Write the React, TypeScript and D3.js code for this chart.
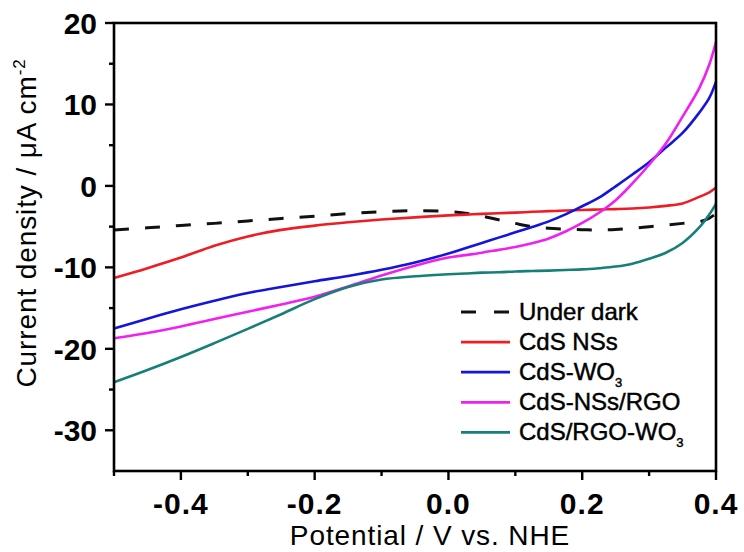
import React from "react";
import * as d3 from "d3";

// Potential sweep (V vs. NHE) shared by every trace
const potential = [
  -0.5, -0.45, -0.4, -0.35, -0.3, -0.25, -0.2, -0.15, -0.1, -0.05, 0, 0.025, 0.05, 0.075,
  0.1, 0.125, 0.15, 0.175, 0.2, 0.225, 0.25, 0.275, 0.3, 0.325, 0.35, 0.375, 0.39, 0.4,
];

// Current density (µA cm^-2) for each sample
const underDark = [
  -5.4, -5.15, -4.85, -4.6, -4.3, -4.0, -3.72, -3.4, -3.18, -3.05, -3.15, -3.35, -3.7, -4.15,
  -4.6, -5.0, -5.2, -5.3, -5.38, -5.4, -5.35, -5.2, -5.0, -4.8, -4.6, -4.4, -3.95, -3.4,
];
const cdsNSs = [
  -11.3, -10.1, -8.8, -7.35, -6.2, -5.4, -4.88, -4.47, -4.13, -3.86, -3.62, -3.52, -3.43, -3.35,
  -3.28, -3.18, -3.1, -3.02, -2.95, -2.9, -2.85, -2.78, -2.65, -2.45, -2.15, -1.35, -0.8, -0.2,
];
const cdsWO3 = [
  -17.5, -16.3, -15.15, -14.1, -13.15, -12.4, -11.7, -11.05, -10.3, -9.4, -8.3, -7.65, -7.0, -6.35,
  -5.7, -5.05, -4.35, -3.5, -2.5, -1.45, -0.05, 1.4, 2.9, 4.7, 6.5, 9.0, 10.8, 12.8,
];
const cdsNSsRGO = [
  -18.7, -18.05, -17.25, -16.35, -15.45, -14.55, -13.6, -12.35, -11.0, -9.8, -8.8, -8.5, -8.2, -7.85,
  -7.5, -7.05, -6.45, -5.6, -4.55, -3.3, -1.75, 0.3, 2.6, 5.2, 8.5, 12.0, 14.9, 17.7,
];
const cdsRGOWO3 = [
  -24.1, -22.6, -21.0, -19.3, -17.55, -15.75, -13.9, -12.4, -11.5, -11.1, -10.85, -10.75, -10.65, -10.6,
  -10.5, -10.45, -10.4, -10.32, -10.25, -10.1, -9.9, -9.55, -8.95, -8.2, -7.0, -5.1, -3.5, -2.2,
];

// Axis ticks
const xTicksMajor = [-0.4, -0.2, 0, 0.2, 0.4];
const xTickLabels = ["-0.4", "-0.2", "0.0", "0.2", "0.4"];
const xTicksMinor = [-0.5, -0.3, -0.1, 0.1, 0.3];
const yTicksMajor = [20, 10, 0, -10, -20, -30];
const yTickLabels = ["20", "10", "0", "-10", "-20", "-30"];
const yTicksMinor = [15, 5, -5, -15, -25];

// Legend entries (main text + optional subscript)
const legendNames = ["Under dark", "CdS NSs", "CdS-WO", "CdS-NSs/RGO", "CdS/RGO-WO"];
const legendSubs = ["", "", "3", "", "3"];
const seriesColors = ["#111111", "#ee1d23", "#1414dc", "#f020ee", "#177f79"];
const seriesData = [underDark, cdsNSs, cdsWO3, cdsNSsRGO, cdsRGOWO3];

const FONT = "'Liberation Sans', Arial, Helvetica, sans-serif";

export default function App() {
  const W = 744;
  const H = 552;
  const left = 114;
  const right = 716;
  const top = 23;
  const bottom = 471;

  const x = d3.scaleLinear().domain([-0.5, 0.4]).range([left, right]);
  const y = d3.scaleLinear().domain([-35, 20]).range([bottom, top]);

  const line = d3
    .line<[number, number]>()
    .x((d) => x(d[0]))
    .y((d) => y(d[1]))
    .curve(d3.curveCatmullRom.alpha(0.5));

  const legendX0 = 461;
  const legendX1 = 510;
  const legendTextX = 519;
  const legendY0 = 312;
  const legendDy = 30.1;

  return (
    <svg
      width={W}
      height={H}
      viewBox={`0 0 ${W} ${H}`}
      style={{ position: "absolute", left: 0, top: 0, background: "#fff" }}
      fontFamily={FONT}
    >
      <rect x={0} y={0} width={W} height={H} fill="#fff" />

      {/* data traces */}
      <g fill="none" strokeLinejoin="round" strokeLinecap="butt">
        {seriesData.map((vals, i) => (
          <path
            key={legendNames[i]}
            d={line(potential.map((p, k) => [p, vals[k]] as [number, number])) || ""}
            stroke={seriesColors[i]}
            strokeWidth={i === 0 ? 3 : 2.6}
            strokeDasharray={i === 0 ? "15,16" : undefined}
          />
        ))}
      </g>

      {/* frame */}
      <rect
        x={left}
        y={top}
        width={right - left}
        height={bottom - top}
        fill="none"
        stroke="#000"
        strokeWidth={2.6}
      />

      {/* ticks */}
      <g stroke="#000" strokeWidth={2.4}>
        {xTicksMajor.map((t) => (
          <line key={"xM" + t} x1={x(t)} x2={x(t)} y1={bottom} y2={bottom + 9} />
        ))}
        {xTicksMinor.map((t) => (
          <line key={"xm" + t} x1={x(t)} x2={x(t)} y1={bottom} y2={bottom + 5} />
        ))}
        {yTicksMajor.map((t) => (
          <line key={"yM" + t} x1={left - 9} x2={left} y1={y(t)} y2={y(t)} />
        ))}
        {yTicksMinor.map((t) => (
          <line key={"ym" + t} x1={left - 5} x2={left} y1={y(t)} y2={y(t)} />
        ))}
      </g>

      {/* tick labels */}
      <g fontWeight="bold" fontSize={30} fill="#000">
        {xTicksMajor.map((t, i) => (
          <text key={"xl" + t} x={x(t)} y={514} textAnchor="middle" letterSpacing={1}>
            {xTickLabels[i]}
          </text>
        ))}
        {yTicksMajor.map((t, i) => (
          <text key={"yl" + t} x={97} y={y(t) + 10.7} textAnchor="end">
            {yTickLabels[i]}
          </text>
        ))}
      </g>

      {/* axis titles */}
      <text x={430} y={545} fontSize={28} textAnchor="middle" fill="#000" letterSpacing={0.9}>
        Potential / V vs. NHE
      </text>
      <text
        transform="translate(36,223) rotate(-90)"
        fontSize={28}
        textAnchor="middle"
        fill="#000"
        letterSpacing={0.9}
      >
        Current density / μA cm
        <tspan fontSize={17} dy={-11}>
          -2
        </tspan>
      </text>

      {/* legend */}
      <g>
        {legendNames.map((name, i) => {
          const ly = legendY0 + i * legendDy;
          return (
            <g key={"lg" + i}>
              <line
                x1={legendX0}
                x2={legendX1}
                y1={ly}
                y2={ly}
                stroke={seriesColors[i]}
                strokeWidth={i === 0 ? 3 : 2.8}
                strokeDasharray={i === 0 ? "15,18" : undefined}
              />
              <text
                x={legendTextX}
                y={ly + 8}
                fontSize={24}
                fill="#000"
                stroke="#000"
                strokeWidth={0.45}
              >
                {name}
                {legendSubs[i] ? (
                  <tspan fontSize={13} dy={7}>
                    {legendSubs[i]}
                  </tspan>
                ) : null}
              </text>
            </g>
          );
        })}
      </g>
    </svg>
  );
}
